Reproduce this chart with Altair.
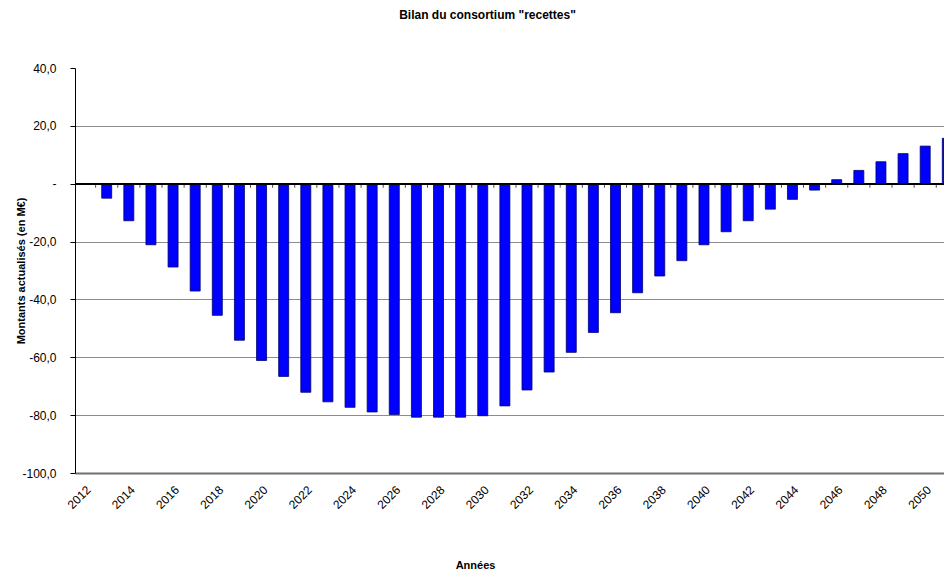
import altair as alt
import pandas as pd

# Discounted consortium balance ("recettes"), in M€, per year
years = list(range(2013, 2052))
values = [
    -5.0, -12.8, -21.1, -28.8, -37.1, -45.5, -54.1, -61.1, -66.6, -72.1,
    -75.4, -77.3, -78.9, -79.8, -80.7, -80.7, -80.7, -80.2, -76.8, -71.3,
    -65.1, -58.3, -51.4, -44.6, -37.7, -31.9, -26.6, -21.1, -16.6, -12.8,
    -8.8, -5.4, -2.2, 1.4, 4.6, 7.6, 10.4, 13.0, 15.7,
]
label_years = list(range(2012, 2052, 2))
y_ticks = [40, 20, 0, -20, -40, -60, -80, -100]

df = pd.DataFrame({"annee": years, "montant": values})

FONT = "Liberation Sans"
HALF_BAR = 0.226

x_scale = alt.Scale(domain=[2011.567, 2050.85], nice=False, zero=False)
y_scale = alt.Scale(domain=[-100, 40], nice=False)

y_label_expr = (
    "datum.value == 0 ? '-' : "
    "(datum.value < 0 ? '-' : '') + replace(format(abs(datum.value), '.1f'), '.', ',')"
)

bars = (
    alt.Chart(df)
    .transform_calculate(x0=f"datum.annee - {HALF_BAR}", x1=f"datum.annee + {HALF_BAR}")
    .mark_bar(color="#0000ff", stroke="#00006e", strokeWidth=0.8, clip=True)
    .encode(
        x=alt.X(
            "x0:Q",
            scale=x_scale,
            axis=alt.Axis(
                values=label_years,
                format="d",
                labelAngle=-45,
                labelAlign="right",
                labelBaseline="top",
                labelPadding=11,
                labelFont=FONT,
                labelFontSize=12,
                labelColor="#000000",
                ticks=False,
                domain=False,
                grid=False,
                title="Années",
                titleFont=FONT,
                titleFontSize=11,
                titleFontWeight="bold",
                titlePadding=49,
                titleX=400,
                titleColor="#000000",
            ),
        ),
        x2="x1:Q",
        y=alt.Y(
            "montant:Q",
            scale=y_scale,
            axis=alt.Axis(
                values=y_ticks,
                labelExpr=y_label_expr,
                labelFont=FONT,
                labelFontSize=12,
                labelColor="#000000",
                labelPadding=14,
                tickSize=5,
                tickColor="#000000",
                domainColor="#000000",
                grid=True,
                gridColor=alt.condition(
                    "datum.value == -100", alt.value("#707070"), alt.value("#8c8c8c")
                ),
                gridWidth=alt.condition(
                    "datum.value == -100", alt.value(2), alt.value(1.2)
                ),
                gridOpacity=alt.condition(
                    "datum.value == 40 || datum.value == 0", alt.value(0), alt.value(1)
                ),
                title="Montants actualisés (en M€)",
                titleFont=FONT,
                titleFontSize=11,
                titleFontWeight="bold",
                titleColor="#000000",
                titlePadding=-5,
            ),
        ),
        y2=alt.Y2(datum=0),
    )
)

# Category axis crossing at zero
zero_line = alt.Chart(df).mark_rule(color="#000000", strokeWidth=1).encode(y=alt.datum(0))

# Tick marks between categories on the zero line
bound_ticks = (
    alt.Chart(df)
    .transform_calculate(bord="datum.annee - 0.5")
    .mark_tick(orient="vertical", size=4, yOffset=2, thickness=1, color="#000000", clip=True)
    .encode(x=alt.X("bord:Q", scale=x_scale), y=alt.Y(datum=0))
)

chart = (
    alt.layer(bars, zero_line, bound_ticks)
    .properties(
        width=869,
        height=405,
        padding={"left": 75, "top": 68, "right": 0, "bottom": 100},
        autosize=alt.AutoSizeParams(type="none"),
        title=alt.TitleParams(
            'Bilan du consortium "recettes"',
            font=FONT,
            fontSize=12,
            fontWeight="bold",
            color="#000000",
            anchor="middle",
            dx=-22,
            offset=40,
        ),
        background="#ffffff",
    )
    .configure_view(stroke=None)
)

chart.save("out.html", embed_options={"renderer": "svg", "actions": False})
